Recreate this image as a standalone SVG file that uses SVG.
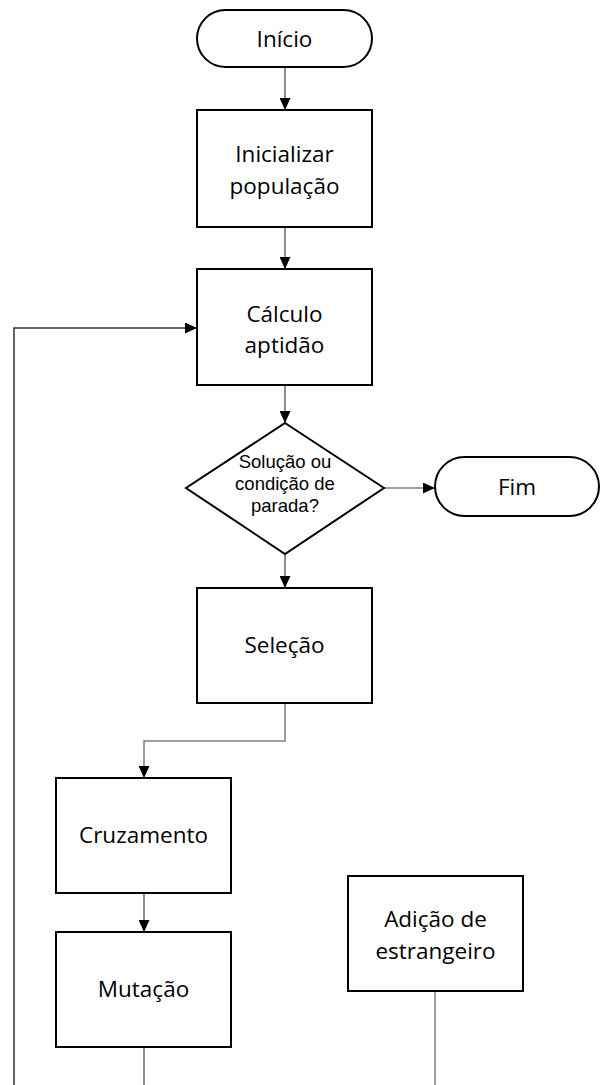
<svg xmlns="http://www.w3.org/2000/svg" width="601" height="1085" viewBox="0 0 601 1085">
<style>
.shape{fill:#fff;stroke:#000;stroke-width:2}
.t{font-family:"Open Sans","Liberation Sans",sans-serif;font-size:22.5px;fill:#000;text-anchor:middle}
.ts{font-family:"Liberation Sans","Open Sans",sans-serif;font-size:18.5px;fill:#000;text-anchor:middle}
.c{fill:none;stroke:#404040;stroke-width:1.2}
.cl{fill:none;stroke:#808080;stroke-width:1.5}
</style>
<defs>
<marker id="arr" markerUnits="userSpaceOnUse" markerWidth="12" markerHeight="11" refX="12" refY="5.5" orient="auto">
<path d="M0,0 L12,5.5 L0,11 z" fill="#000"/>
</marker>
</defs>
<g id="connectors">
<path class="c" d="M285,67 V110" marker-end="url(#arr)"/>
<path class="c" d="M285,227 V269" marker-end="url(#arr)"/>
<path class="c" d="M285,385 V423" marker-end="url(#arr)"/>
<path class="c" d="M384,488 H435" marker-end="url(#arr)"/>
<path class="c" d="M285,554 V588" marker-end="url(#arr)"/>
<path class="cl" d="M285,703 V741 H144 V778" marker-end="url(#arr)"/>
<path class="c" d="M144,893 V932" marker-end="url(#arr)"/>
<path class="c" d="M144,1047 V1085"/>
<path class="cl" d="M435,991 V1085"/>
<path class="c" d="M14,1085 V328 H197" marker-end="url(#arr)" style="stroke:#333;stroke-width:1.5"/>
</g>
<g id="inicio">
<rect class="shape" x="197" y="10" width="175" height="57" rx="28.5"/>
<text class="t" x="284.5" y="47">Início</text>
</g>
<g id="inicializar">
<rect class="shape" x="197" y="110" width="175" height="117"/>
<text class="t" x="284.5" y="162">Inicializar</text>
<text class="t" x="284.5" y="194">população</text>
</g>
<g id="calculo">
<rect class="shape" x="197" y="269" width="175" height="116"/>
<text class="t" x="284.5" y="322">Cálculo</text>
<text class="t" x="284.5" y="353">aptidão</text>
</g>
<g id="decisao">
<polygon class="shape" points="285,423 384,488 285,554 186,488"/>
<text class="ts" x="285" y="468">Solução ou</text>
<text class="ts" x="285" y="490">condição de</text>
<text class="ts" x="285" y="512">parada?</text>
</g>
<g id="fim">
<rect class="shape" x="435" y="457" width="164" height="59" rx="29.5"/>
<text class="t" x="517" y="495">Fim</text>
</g>
<g id="selecao">
<rect class="shape" x="197" y="588" width="175" height="115"/>
<text class="t" x="284.5" y="653">Seleção</text>
</g>
<g id="cruzamento">
<rect class="shape" x="56" y="778" width="175" height="115"/>
<text class="t" x="143.5" y="843">Cruzamento</text>
</g>
<g id="mutacao">
<rect class="shape" x="56" y="932" width="175" height="115"/>
<text class="t" x="143.5" y="997">Mutação</text>
</g>
<g id="adicao">
<rect class="shape" x="348" y="876" width="175" height="115"/>
<text class="t" x="435.5" y="927">Adição de</text>
<text class="t" x="435.5" y="959">estrangeiro</text>
</g>
</svg>
